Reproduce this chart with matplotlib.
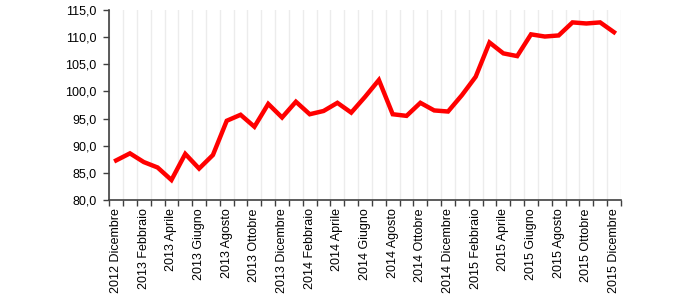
import numpy as np
import matplotlib
matplotlib.use("Agg")
import matplotlib.pyplot as plt
from matplotlib.ticker import FuncFormatter

plt.rcParams['font.family'] = ['Liberation Sans', 'DejaVu Sans']

# monthly index, Dec 2012 .. Dec 2015
months = ["Dicembre", "Gennaio", "Febbraio", "Marzo", "Aprile", "Maggio", "Giugno",
          "Luglio", "Agosto", "Settembre", "Ottobre", "Novembre"]
labels = ["2012 Dicembre"] + [f"{y} {m}" for y in (2013, 2014, 2015)
                              for m in months[1:] + ["Dicembre"]]
values = [87.3, 88.6, 87.0, 86.0, 83.7, 88.5, 85.8, 88.3, 94.6, 95.7,
          93.5, 97.7, 95.2, 98.1, 95.8, 96.4, 97.9, 96.1, 99.0, 102.1,
          95.8, 95.5, 97.9, 96.5, 96.3, 99.3, 102.7, 109.0, 107.0, 106.5,
          110.5, 110.1, 110.3, 112.7, 112.5, 112.7, 110.9]

fig = plt.figure(figsize=(7, 3), dpi=100)
ax = fig.add_axes([0.156, 0.333, 0.731, 0.634])

x = np.arange(len(values))
ax.plot(x, values, color="#ff0000", linewidth=3.2, solid_joinstyle="miter")

ax.set_xlim(-0.5, len(values) - 0.5)
ax.set_ylim(80, 115)
ax.set_yticks(np.arange(80, 116, 5))
ax.yaxis.set_major_formatter(FuncFormatter(lambda v, p: f"{v:.1f}".replace(".", ",")))

# labels every second month, ticks + grid at category borders
ax.set_xticks(x[::2])
ax.set_xticklabels(labels[::2], rotation=90)
ax.set_xticks(np.arange(-0.5, len(values)), minor=True)
ax.tick_params(axis="x", which="major", length=0, pad=6)
ax.tick_params(axis="x", which="minor", length=4, width=1, color="#404040")
ax.tick_params(axis="y", length=4, width=1, color="#404040", pad=5)
ax.tick_params(labelsize=9, labelcolor="black")
ax.grid(axis="x", which="minor", color="#ececec", linewidth=1)

for side in ("top", "right"):
    ax.spines[side].set_visible(False)
for side in ("left", "bottom"):
    ax.spines[side].set_color("#404040")
    ax.spines[side].set_linewidth(1.2)

fig.savefig("out.png", dpi=100)
